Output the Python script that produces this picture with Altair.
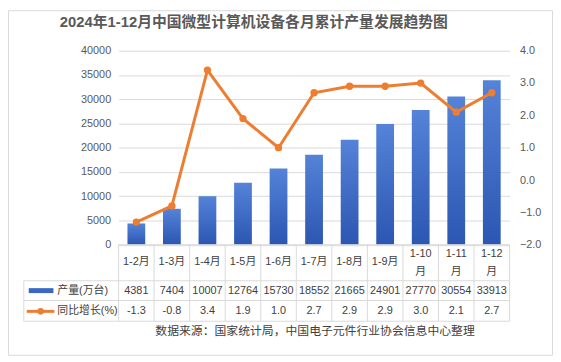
import altair as alt
import pandas as pd

months = ["1-2月", "1-3月", "1-4月", "1-5月", "1-6月", "1-7月", "1-8月", "1-9月", "1-10月", "1-11月", "1-12月"]
output = [4381, 7404, 10007, 12764, 15730, 18552, 21665, 24901, 27770, 30554, 33913]
growth = [-1.3, -0.8, 3.4, 1.9, 1.0, 2.7, 2.9, 2.9, 3.0, 2.1, 2.7]
left_ticks = [0, 5000, 10000, 15000, 20000, 25000, 30000, 35000, 40000]
right_ticks = [-2, -1, 0, 1, 2, 3, 4]

title_text = "2024年1-12月中国微型计算机设备各月累计产量发展趋势图"
source_text = "数据来源：国家统计局，中国电子元件行业协会信息中心整理"
series_names = ["产量(万台)", "同比增长(%)"]

FONT = "Liberation Sans, Noto Sans CJK SC, sans-serif"
BLUE_TOP = "#5583D8"
BLUE_BOT = "#2B56B2"
ORANGE = "#ED7D31"
GRID = "#D9D9D9"
TXT = "#404040"
W, H = 396, 196.5

df = pd.DataFrame({"month": months, "output": output, "growth": growth,
                   "out_s": [str(v) for v in output],
                   "gr_s": [f"{v:.1f}" for v in growth]})
df["top"] = [m[:-1] if len(m) > 4 else "" for m in months]
df["bot"] = ["月" if len(m) > 4 else "" for m in months]
df["single"] = [m if len(m) <= 4 else "" for m in months]

xband = alt.X("month:N", sort=months, axis=None,
              scale=alt.Scale(paddingInner=0.5, paddingOuter=0.25))

base = alt.Chart(df)

bars = base.mark_bar(
    color=alt.LinearGradient(gradient="linear", x1=0, x2=0, y1=0, y2=1,
                             stops=[alt.GradientStop(color=BLUE_TOP, offset=0),
                                    alt.GradientStop(color=BLUE_BOT, offset=1)])
).encode(
    x=xband,
    y=alt.Y("output:Q", scale=alt.Scale(domain=[0, 40000], nice=False),
            axis=alt.Axis(values=left_ticks, format="d", title=None, grid=True, gridColor=GRID,
                          domain=False, ticks=False, labelPadding=8,
                          labelColor="#595959", labelFontSize=11, labelFont=FONT)),
)

line = base.mark_line(color=ORANGE, strokeWidth=3,
                      point=alt.OverlayMarkDef(color=ORANGE, size=55, filled=True, opacity=1)).encode(
    x=xband,
    y=alt.Y("growth:Q", scale=alt.Scale(domain=[-2, 4], nice=False),
            axis=alt.Axis(orient="right", values=right_ticks, format=".1f", title=None,
                          grid=False, domain=False, ticks=False, labelPadding=10,
                          labelColor="#595959", labelFontSize=11, labelFont=FONT)),
)

one = pd.DataFrame({"a": [0]})

# table lines
hlines = []
for yv, x0 in [(196.5, 0), (233, -96), (253, -96), (274, -96)]:
    hlines.append(alt.Chart(one).mark_rule(color=GRID, strokeWidth=1).encode(
        x=alt.value(x0), x2=alt.value(396), y=alt.value(yv)))
vlines = base.mark_rule(color=GRID, strokeWidth=1, xOffset=-9).encode(
    x=alt.X("month:N", sort=months, axis=None, bandPosition=0),
    y=alt.value(196.5), y2=alt.value(274))
vright = alt.Chart(one).mark_rule(color=GRID, strokeWidth=1).encode(
    x=alt.value(396), y=alt.value(196.5), y2=alt.value(274))
vleft = alt.Chart(one).mark_rule(color=GRID, strokeWidth=1).encode(
    x=alt.value(-96), y=alt.value(233), y2=alt.value(274))

tkw = dict(font=FONT, fontSize=11, color=TXT, baseline="middle", align="center")
hdr_single = base.mark_text(**tkw).encode(x=xband, y=alt.value(214.5), text="single:N")
hdr_top = base.mark_text(**tkw).encode(x=xband, y=alt.value(205.5), text="top:N")
hdr_bot = base.mark_text(**tkw).encode(x=xband, y=alt.value(224), text="bot:N")
row1 = base.mark_text(**tkw).encode(x=xband, y=alt.value(243.5), text="out_s:N")
row2 = base.mark_text(**tkw).encode(x=xband, y=alt.value(264), text="gr_s:N")

leg_bar = alt.Chart(one).mark_rect(color="#3A66C4").encode(
    x=alt.value(-91), x2=alt.value(-66), y=alt.value(240.5), y2=alt.value(245.5))
leg_line = alt.Chart(one).mark_rule(color=ORANGE, strokeWidth=3).encode(
    x=alt.value(-93), x2=alt.value(-65), y=alt.value(264))
leg_pt = alt.Chart(one).mark_point(color=ORANGE, filled=True, size=45, opacity=1).encode(
    x=alt.value(-79), y=alt.value(264))
leg_t1 = alt.Chart(one).mark_text(font=FONT, fontSize=11, color=TXT, baseline="middle", align="left",
                                  text=series_names[0]).encode(x=alt.value(-62), y=alt.value(243.5))
leg_t2 = alt.Chart(one).mark_text(font=FONT, fontSize=11, color=TXT, baseline="middle", align="left",
                                  text=series_names[1]).encode(x=alt.value(-62), y=alt.value(264))

title = alt.Chart(one).mark_text(font=FONT, fontSize=15, fontWeight="bold", color="#595959",
                                 baseline="middle", align="center", text=title_text).encode(
    x=alt.value(137), y=alt.value(-29))
source = alt.Chart(one).mark_text(font=FONT, fontSize=12, color=TXT, baseline="middle",
                                  align="center", text=source_text).encode(
    x=alt.value(199), y=alt.value(284))

border = alt.Chart(one).mark_rect(fill="white", fillOpacity=0, stroke=GRID, strokeWidth=1).encode(
    x=alt.value(-111.5), x2=alt.value(439.5), y=alt.value(-40.5), y2=alt.value(308.5))

chart = alt.layer(
    border, bars, line, *hlines, vlines, vright, vleft,
    hdr_single, hdr_top, hdr_bot, row1, row2,
    leg_bar, leg_line, leg_pt, leg_t1, leg_t2, title, source,
).resolve_scale(y="independent").properties(
    width=W, height=H,
    autosize=alt.AutoSizeParams(type="none"),
    padding={"left": 112, "top": 41, "right": 44, "bottom": 113.5},
).configure_view(stroke=None)

chart.save("out.html", embed_options={"renderer": "svg", "actions": False})
